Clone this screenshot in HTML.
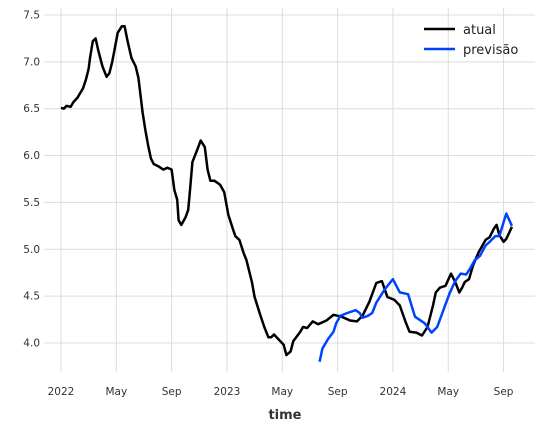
<!DOCTYPE html>
<html><head><meta charset="utf-8"><style>
body{margin:0;background:#fff;font-family:"Liberation Sans","DejaVu Sans",sans-serif}
svg text{font-family:"DejaVu Sans","Liberation Sans",sans-serif}
</style></head><body>
<svg id="c" width="544" height="431">
<g id="grid"></g>
<g id="axes"></g>
<g id="series"></g>
<g>
<line x1="424" y1="29" x2="455" y2="29" stroke="#000" stroke-width="2.5"/>
<text x="463" y="34" font-size="13" fill="#222">atual</text>
<line x1="424" y1="49" x2="455" y2="49" stroke="#0043ff" stroke-width="2.5"/>
<text x="463" y="54" font-size="13" fill="#222">previsão</text>
</g>
<text x="285" y="419" font-size="13" font-weight="bold" fill="#333" text-anchor="middle">time</text>
</svg>
<script>
const xTickMonths=[0,4,8,12,16,20,24,28,32];
const xTickLabels=["2022","May","Sep","2023","May","Sep","2024","May","Sep"];
const yTicks=[4.0,4.5,5.0,5.5,6.0,6.5,7.0,7.5];
const actualMonths=[0,.2,.4,.7,.9,1.2,1.6,1.8,2.0,2.1,2.3,2.5,2.7,3.0,3.3,3.5,3.7,3.9,4.1,4.4,4.6,4.8,5.1,5.4,5.6,5.9,6.1,6.3,6.5,6.7,7.1,7.4,7.7,8.0,8.2,8.4,8.5,8.7,9.0,9.2,9.3,9.5,9.9,10.1,10.4,10.6,10.8,11.1,11.5,11.8,12.1,12.4,12.6,12.9,13.2,13.4,13.8,14.0,14.4,14.7,15.0,15.2,15.4,16.1,16.3,16.6,16.8,17.3,17.5,17.8,18.2,18.6,19.2,19.7,20.3,20.9,21.4,21.8,22.3,22.8,23.2,23.6,24.1,24.5,24.9,25.2,25.7,26.1,26.5,26.9,27.1,27.4,27.8,28.2,28.5,28.8,29.0,29.2,29.5,29.8,30.2,30.4,30.7,31.0,31.3,31.5,31.7,32.0,32.2,32.6];
const actualValues=[6.51,6.50,6.53,6.52,6.57,6.62,6.72,6.81,6.93,7.04,7.22,7.25,7.12,6.95,6.84,6.88,7.0,7.15,7.31,7.38,7.38,7.23,7.04,6.95,6.83,6.46,6.27,6.11,5.97,5.91,5.88,5.85,5.87,5.85,5.63,5.53,5.31,5.26,5.34,5.42,5.58,5.93,6.08,6.16,6.09,5.85,5.73,5.73,5.69,5.61,5.37,5.23,5.14,5.10,4.96,4.89,4.65,4.49,4.30,4.17,4.06,4.06,4.09,3.98,3.87,3.91,4.02,4.12,4.17,4.16,4.23,4.20,4.24,4.30,4.28,4.24,4.23,4.29,4.44,4.64,4.66,4.49,4.46,4.40,4.23,4.12,4.11,4.08,4.17,4.40,4.54,4.59,4.61,4.74,4.65,4.54,4.59,4.65,4.68,4.83,4.97,5.02,5.10,5.13,5.22,5.26,5.15,5.08,5.11,5.24];
const forecastMonths=[18.7,18.9,19.3,19.7,19.9,20.2,20.7,21.3,21.6,21.8,22.2,22.5,22.8,23.4,24.0,24.5,25.1,25.6,26.3,26.8,27.2,27.6,28.1,28.5,28.9,29.3,29.6,29.9,30.3,30.7,31.0,31.4,31.7,32.0,32.2,32.6];
const forecastValues=[3.80,3.94,4.04,4.12,4.21,4.29,4.32,4.35,4.32,4.27,4.29,4.32,4.43,4.57,4.68,4.54,4.52,4.28,4.21,4.11,4.17,4.33,4.53,4.66,4.74,4.73,4.80,4.88,4.93,5.04,5.08,5.14,5.14,5.29,5.38,5.25];
const NS="http://www.w3.org/2000/svg";
const xs=m=>61+m*13.83, ys=v=>15+(7.5-v)*93.7;
function mk(t,a,p){const e=document.createElementNS(NS,t);for(const k in a)e.setAttribute(k,a[k]);p.appendChild(e);return e;}
const grid=document.getElementById('grid'),axes=document.getElementById('axes'),ser=document.getElementById('series');
xTickMonths.forEach((m,i)=>{
 const l=mk('line',{x1:xs(m),x2:xs(m),y1:8,y2:372,stroke:'#dcdcdc','stroke-width':1},grid);
 
 
 const t=mk('text',{x:xs(m),y:395,'font-size':10.5,fill:'#333','text-anchor':'middle'},axes);
 t.textContent=xTickLabels[i];
 
 
});
yTicks.forEach(v=>{
 const l=mk('line',{x1:44,x2:535,y1:ys(v),y2:ys(v),stroke:'#dcdcdc','stroke-width':1},grid);
 
 
 const t=mk('text',{x:40,y:ys(v)+3.5,'font-size':10.5,fill:'#333','text-anchor':'end'},axes);
 t.textContent=v.toFixed(1);
 
 
});
function line(ms,vs,col,name){
 const d=ms.map((m,i)=>(i?'L':'M')+xs(m).toFixed(1)+' '+ys(vs[i]).toFixed(1)).join('');
 const p=mk('path',{d:d,fill:'none',stroke:col,'stroke-width':2.5,'stroke-linejoin':'round'},ser);
 
 
}
line(actualMonths,actualValues,'#000','actual-line');
line(forecastMonths,forecastValues,'#0043ff','forecast-line');
</script>
</body></html>
